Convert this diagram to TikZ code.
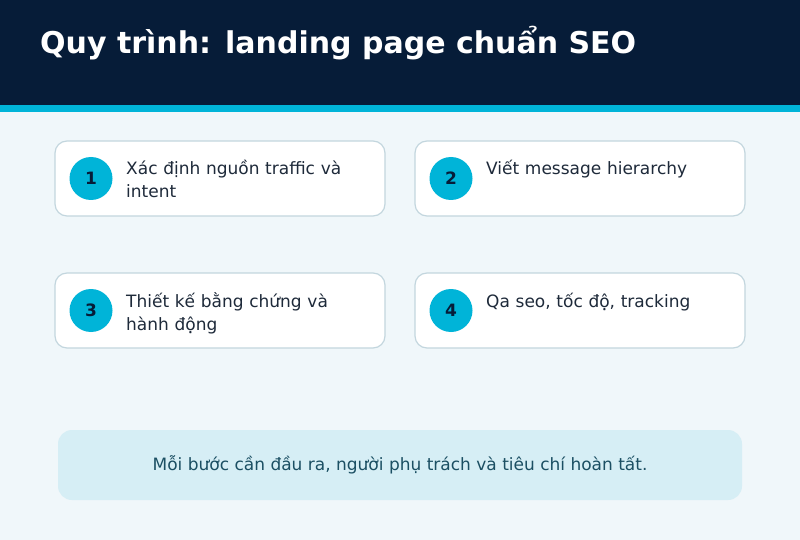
\documentclass[tikz,border=0pt]{standalone}
\usepackage{fontspec}
\setmainfont{DejaVu Sans}
\definecolor{navy}{HTML}{061C38}
\definecolor{cyanbar}{HTML}{00B4D8}
\definecolor{bgc}{HTML}{F0F7FA}
\definecolor{cardborder}{HTML}{C3D6DE}
\definecolor{cardtext}{HTML}{1E2A3A}
\definecolor{notefill}{HTML}{D6EEF5}
\definecolor{notetext}{HTML}{1B4F63}
\begin{document}
\begin{tikzpicture}[x=1pt,y=-1pt,
  card/.style={draw=cardborder,line width=1.2pt,fill=white,rounded corners=12pt,minimum width=330pt,minimum height=75pt,inner sep=0pt},
  badge/.style={circle,fill=cyanbar,minimum size=43pt,inner sep=0pt,font=\fontsize{17}{17}\selectfont\bfseries,text=navy},
  cardlabel/.style={anchor=base west,text=cardtext,font=\fontsize{17}{23}\selectfont,align=left,text width=240pt,inner sep=0pt},
  note/.style={fill=notefill,rounded corners=14pt,minimum width=684pt,minimum height=70pt,inner sep=0pt,text=notetext,font=\fontsize{17}{20}\selectfont}]
\useasboundingbox (0,0) rectangle (800,540);
\fill[bgc] (0,0) rectangle (800,540);
\fill[navy] (0,0) rectangle (800,105);
\fill[cyanbar] (0,105) rectangle (800,112);
\node[anchor=base west,text=white,font=\fontsize{30}{30}\selectfont\bfseries,inner sep=0pt] (title) at (40,54) {Quy trình: landing page chuẩn SEO};
% cards
\node[card] (c1) at (220,178.5) {};
\node[card] (c2) at (580,178.5) {};
\node[card] (c3) at (220,310.5) {};
\node[card] (c4) at (580,310.5) {};
\node[badge] (b1) at (91,178.5) {1};
\node[badge] (b2) at (451,178.5) {2};
\node[badge] (b3) at (91,310.5) {3};
\node[badge] (b4) at (451,310.5) {4};
\node[cardlabel] (t1) at (126,175) {Xác định nguồn traffic và\\intent};
\node[cardlabel] (t2) at (486,175) {Viết message hierarchy};
\node[cardlabel] (t3) at (126,307) {Thiết kế bằng chứng và\\hành động};
\node[cardlabel] (t4) at (486,307) {Qa seo, tốc độ, tracking};
\node[note] (n) at (400,465) {Mỗi bước cần đầu ra, người phụ trách và tiêu chí hoàn tất.};
\end{tikzpicture}
\end{document}
